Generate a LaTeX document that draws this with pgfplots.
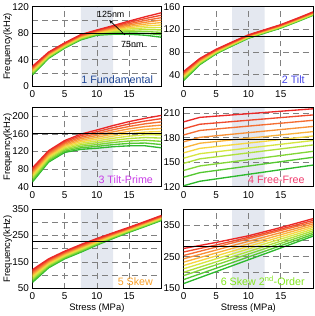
\documentclass[border=0pt]{standalone}
\usepackage{pgfplots}
\pgfplotsset{compat=1.18}
\usepackage{pgfplotstable}
\usepackage{fontspec}
\setmainfont{Liberation Sans}
\usetikzlibrary{arrows.meta}

\definecolor{c0}{RGB}{235,40,40}
\definecolor{c1}{RGB}{240,75,45}
\definecolor{c2}{RGB}{245,110,50}
\definecolor{c3}{RGB}{248,145,55}
\definecolor{c4}{RGB}{250,180,60}
\definecolor{c5}{RGB}{245,215,65}
\definecolor{c6}{RGB}{215,230,65}
\definecolor{c7}{RGB}{175,225,60}
\definecolor{c8}{RGB}{130,215,55}
\definecolor{c9}{RGB}{85,200,50}
\definecolor{c10}{RGB}{45,185,45}
\definecolor{shade}{RGB}{228,232,240}
\definecolor{t1}{RGB}{30,70,150}
\definecolor{t2}{RGB}{70,70,230}
\definecolor{t3}{RGB}{200,60,230}
\definecolor{t4}{RGB}{240,60,110}
\definecolor{t5}{RGB}{250,160,40}
\definecolor{t6}{RGB}{130,230,30}

\pgfplotstableread{
x k0 k1 k2 k3 k4 k5 k6 k7 k8 k9 k10
0 30 28.7 27.4 26.1 24.8 23.5 22.2 20.9 19.6 18.3 17
2.5 51.5 50.55 49.6 48.65 47.7 46.75 45.8 44.85 43.9 42.95 42
5 65.5 64.7 63.9 63.1 62.3 61.5 60.7 59.9 59.1 58.3 57.5
7.5 78 77.2 76.4 75.6 74.8 74 73.2 72.4 71.6 70.8 70
10 85 84.2 83.4 82.6 81.8 81 80.2 79.4 78.6 77.8 77
12.5 91.5 90.2 88.9 87.6 86.3 85 83.7 82.4 81.1 79.8 78.5
15 98.5 96.5 94.5 92.5 90.5 88.5 86.5 84.5 82.5 80.5 78.5
17.5 105 102.2 99.4 96.6 93.8 91 88.2 85.4 82.6 79.8 77
20 111 107.3 103.6 99.9 96.2 92.5 88.8 85.1 81.4 77.7 74
}\tabA

\pgfplotstableread{
x k0 k1 k2 k3 k4 k5 k6 k7 k8 k9 k10
0 46 44.4 42.8 41.2 39.6 38 36.4 34.8 33.2 31.6 30
2.5 69 67.9 66.8 65.7 64.6 63.5 62.4 61.3 60.2 59.1 58
5 85 84.2 83.4 82.6 81.8 81 80.2 79.4 78.6 77.8 77
7.5 98 97.3 96.6 95.9 95.2 94.5 93.8 93.1 92.4 91.7 91
10 110.5 109.9 109.3 108.7 108.1 107.5 106.9 106.3 105.7 105.1 104.5
12.5 119.5 118.9 118.3 117.7 117.1 116.5 115.9 115.3 114.7 114.1 113.5
15 128.5 127.9 127.3 126.7 126.1 125.5 124.9 124.3 123.7 123.1 122.5
17.5 139.5 138.9 138.3 137.7 137.1 136.5 135.9 135.3 134.7 134.1 133.5
20 151 150.4 149.8 149.2 148.6 148 147.4 146.8 146.2 145.6 145
}\tabB

\pgfplotstableread{
x k0 k1 k2 k3 k4 k5 k6 k7 k8 k9 k10
0 83 79.8 76.6 73.4 70.2 67 63.8 60.6 57.4 54.2 51
2.5 122 119.4 116.8 114.2 111.6 109 106.4 103.8 101.2 98.6 96
5 145 142.3 139.6 136.9 134.2 131.5 128.8 126.1 123.4 120.7 118
7.5 159.5 156.1 152.6 149.2 145.7 142.3 138.8 135.4 131.9 128.5 125
10 169 164.9 160.7 156.6 152.4 148.3 144.1 140 135.8 131.7 127.5
12.5 179 174.2 169.4 164.6 159.8 155 150.2 145.4 140.6 135.8 131
15 188 182.5 177 171.5 166 160.5 155 149.5 144 138.5 133
17.5 195.5 189.3 183 176.8 170.5 164.3 158 151.8 145.5 139.3 133
20 202 194.7 187.3 180 172.6 165.3 157.9 150.6 143.2 135.9 128.5
}\tabC

\pgfplotstableread{
x k0 k1 k2 k3 k4 k5 k6 k7 k8 k9 k10
0 199.4 191 183.4 175 167.8 161.5 155 148.7 140 131.8 121.3
2.5 204.9 196.5 188.9 180.5 173.3 167 160.5 154.2 145.5 137.3 126.8
20 215.4 207.9 201.3 193.8 187.5 182.1 176.6 171.2 163.4 156.1 146.6
}\tabD

\pgfplotstableread{
x k0 k1 k2 k3 k4 k5 k6 k7 k8 k9 k10
0 121 116.2 111.4 106.6 101.8 97 92.2 87.4 82.6 77.8 73
2.5 162 158.6 155.2 151.8 148.4 145 141.6 138.2 134.8 131.4 128
5 191 188.1 185.2 182.3 179.4 176.5 173.6 170.7 167.8 164.9 162
7.5 216 213.1 210.2 207.3 204.4 201.5 198.6 195.7 192.8 189.9 187
10 239 236.5 234 231.5 229 226.5 224 221.5 219 216.5 214
12.5 260.5 258.4 256.2 254.1 251.9 249.8 247.6 245.5 243.3 241.2 239
15 281.5 279.6 277.7 275.8 273.9 272 270.1 268.2 266.3 264.4 262.5
17.5 303.5 301.6 299.7 297.8 295.9 294 292.1 290.2 288.3 286.4 284.5
20 326 324.1 322.2 320.3 318.4 316.5 314.6 312.7 310.8 308.9 307
}\tabE

\pgfplotstableread{
x k0 k1 k2 k3 k4 k5 k6 k7 k8 k9 k10
0 276 265 254 243.5 233 222.5 212 201 190.5 178 165.5
5 295 287 280.3 271 261.8 252.5 243.3 233.6 224.4 213.6 202.9
10 316 311 306.5 298.5 290.5 282.5 274.5 266.3 258.3 249.3 240.3
15 342 337 332.8 326 319.3 312.5 305.8 298.9 292.1 284.9 277.6
20 370 364.5 359 353.5 348 342.5 337 331.5 326 320.5 315
}\tabF

\tikzset{
  title node/.style={anchor=base east, font=\fontsize{10.8}{12}\selectfont, xshift=-5pt, yshift=3pt},
}
\pgfplotsset{
  panel/.style={
    scale only axis, width=130pt, height=80pt,
    xmin=0, xmax=20, xtick={0,5,10,15},
    set layers, clip=true,
    major tick length=0pt, minor tick length=0pt,
    xmajorgrids, ymajorgrids,
    grid style={black!50, line width=0.8pt, dash pattern=on 6pt off 4pt},
    minor grid style={black!50, line width=0.8pt, dash pattern=on 6pt off 4pt},
    axis line style={line width=1.1pt},
    tick label style={font=\fontsize{10}{12}\selectfont},
    xticklabel style={yshift=-1pt},
    /pgf/number format/assume math mode=true,
    ylabel style={at={(axis description cs:-0.192,0.5)}, anchor=center, font=\fontsize{9.5}{11}\selectfont},
    xlabel style={at={(axis description cs:0.5,0)}, anchor=center, yshift=-20pt, font=\fontsize{9.5}{11}\selectfont},
  },
}

\newcommand{\curves}[1]{%
  \pgfplotsinvokeforeach{10,9,8,7,6,5,4,3,2,1,0}{%
    \addplot[c##1, line width=1.35pt, no marks] table[x=x, y=k##1] {#1};
  }%
}

\begin{document}
\begin{tikzpicture}
\path (0pt,0pt) rectangle (315pt,316pt);

% (a)
\begin{axis}[panel, at={(31pt,231pt)}, anchor=south west,
  ymin=0, ymax=120, ytick={0,40,80,120}, minor ytick={20,60,100}, yminorgrids,
  ylabel={Frequency(kHz)}]
\addplot[draw=none, fill=shade, on layer=axis background] coordinates {(7.5,0) (12.5,0) (12.5,120) (7.5,120)} \closedcycle;
\curves{\tabA}
\addplot[black, line width=1.1pt] coordinates {(0,80) (20,80)};
\node[font=\fontsize{9}{10}\selectfont] at (axis cs:12.15,109) {125nm};
\node[font=\fontsize{9}{10}\selectfont] at (axis cs:15.5,63.5) {75nm};
\draw[-{Stealth[length=4pt,width=3pt]}, line width=0.7pt] (axis cs:14.35,77.5) -- (axis cs:11.9,100);
\node[title node, text=t1] at (rel axis cs:1,0) {1 Fundamental};
\node[font=\fontsize{10}{12}\selectfont] at (rel axis cs:0,0) [xshift=-22.5pt, yshift=-10pt] {(a)};
\end{axis}

% (b)
\begin{axis}[panel, at={(183.5pt,231pt)}, anchor=south west, width=130.5pt,
  ymin=20, ymax=160, ytick={40,80,120,160}]
\addplot[draw=none, fill=shade, on layer=axis background] coordinates {(7.5,20) (12.5,20) (12.5,160) (7.5,160)} \closedcycle;
\curves{\tabB}
\addplot[black, line width=1.1pt] coordinates {(0,108) (20,108)};
\node[title node, text=t2] at (rel axis cs:1,0) {2 Tilt};
\node[font=\fontsize{10}{12}\selectfont] at (rel axis cs:0,0) [xshift=-14.5pt, yshift=-10pt] {(b)};
\end{axis}

% (c)
\begin{axis}[panel, at={(31pt,129.5pt)}, anchor=south west,
  ymin=40, ymax=220, ytick={40,80,120,160,200},
  ylabel={Frequency(kHz)}]
\addplot[draw=none, fill=shade, on layer=axis background] coordinates {(7.5,40) (12.5,40) (12.5,220) (7.5,220)} \closedcycle;
\curves{\tabC}
\addplot[black, line width=1.1pt] coordinates {(0,160) (20,160)};
\node[title node, text=t3] at (rel axis cs:1,0) {3 Tilt-Prime};
\node[font=\fontsize{10}{12}\selectfont] at (rel axis cs:0,0) [xshift=-22.5pt, yshift=-10pt] {(c)};
\end{axis}

% (d)
\begin{axis}[panel, at={(183.5pt,129.5pt)}, anchor=south west, width=130.5pt,
  ymin=120, ymax=217, ytick={120,150,180,210}]
\addplot[draw=none, fill=shade, on layer=axis background] coordinates {(7.5,120) (12.5,120) (12.5,217) (7.5,217)} \closedcycle;
\curves{\tabD}
\addplot[black, line width=1.1pt] coordinates {(0,177.5) (20,177.5)};
\node[title node, text=t4] at (rel axis cs:1,0) {4 Free-Free};
\node[font=\fontsize{10}{12}\selectfont] at (rel axis cs:0,0) [xshift=-14.5pt, yshift=-10pt] {(d)};
\end{axis}

% (e)
\begin{axis}[panel, at={(31pt,27pt)}, anchor=south west,
  ymin=50, ymax=350, ytick={50,150,250,350}, minor ytick={100,200,300}, yminorgrids,
  ylabel={Frequency(kHz)}, xlabel={Stress (MPa)}]
\addplot[draw=none, fill=shade, on layer=axis background] coordinates {(7.5,50) (12.5,50) (12.5,350) (7.5,350)} \closedcycle;
\curves{\tabE}
\addplot[black, line width=1.1pt] coordinates {(0,229) (20,229)};
\node[title node, text=t5] at (rel axis cs:1,0) {5 Skew};
\node[font=\fontsize{10}{12}\selectfont] at (rel axis cs:0,0) [xshift=-23pt, yshift=-19.5pt] {(e)};
\end{axis}

% (f)
\begin{axis}[panel, at={(183.5pt,27pt)}, anchor=south west, width=130.5pt,
  ymin=150, ymax=400, ytick={150,250,350}, minor ytick={200,300}, yminorgrids,
  xlabel={Stress (MPa)}]
\addplot[draw=none, fill=shade, on layer=axis background] coordinates {(7.5,150) (12.5,150) (12.5,400) (7.5,400)} \closedcycle;
\curves{\tabF}
\addplot[black, line width=1.1pt] coordinates {(0,282) (20,282)};
\node[title node, text=t6] at (rel axis cs:1,0) {6 Skew 2\textsuperscript{nd}-Order};
\node[font=\fontsize{10}{12}\selectfont] at (rel axis cs:0,0) [xshift=-16pt, yshift=-20pt] {(f)};
\end{axis}
\end{tikzpicture}
\end{document}
